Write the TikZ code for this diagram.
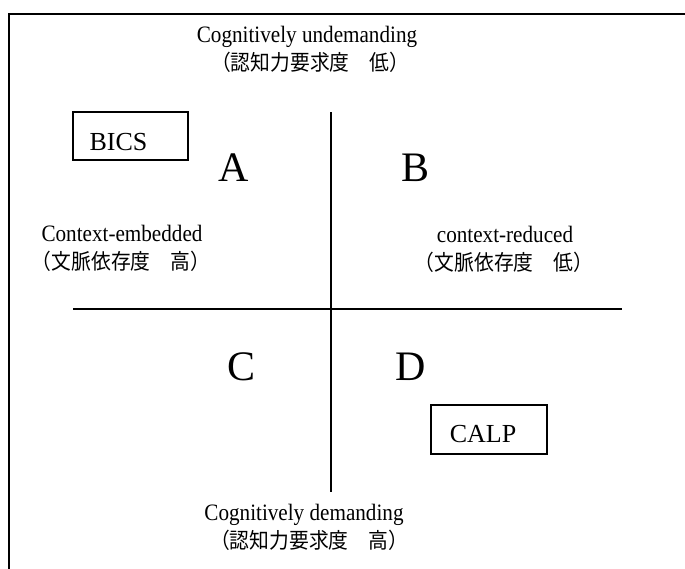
\documentclass[tikz,border=0pt]{standalone}
\usepackage{fontspec}
\setmainfont{Liberation Serif}
\newfontfamily\condserif[FakeStretch=0.9]{Liberation Serif}
\newfontfamily\cjk[FakeStretch=0.92]{Noto Sans CJK JP}
\begin{document}
\begin{tikzpicture}[x=1pt,y=-1pt,
  lbl/.style={font=\condserif\fontsize{23.5}{23.5}\selectfont, inner sep=0pt, anchor=base},
  jlbl/.style={font=\cjk\fontsize{21.5}{21.5}\selectfont, inner sep=0pt, anchor=base},
  quad/.style={font=\fontsize{42}{42}\selectfont, inner sep=0pt, anchor=base},
  boxst/.style={draw, line width=1.2pt, inner sep=0pt},
  boxtxt/.style={font=\fontsize{26}{26}\selectfont, inner sep=0pt, anchor=base},
  axis/.style={line width=1.6pt},
  frame/.style={line width=1.8pt}]
\useasboundingbox (0,0) rectangle (685,568);
\clip (0,0) rectangle (685,568);
\draw[frame] (9,14) rectangle (720,600);
% axes
\coordinate (hl) at (73,309);
\coordinate (hr) at (622,309);
\coordinate (vt) at (331,112);
\coordinate (vb) at (331,492);
\draw[axis] (hl) -- (hr);
\draw[axis] (vt) -- (vb);
% top labels
\node[lbl] (top1) at (307,42) {Cognitively undemanding};
\node[jlbl] (top2) at (310,70) {（認知力要求度　低）};
% bottom labels
\node[lbl] (bot1) at (304,520) {Cognitively demanding};
\node[jlbl] (bot2) at (309,548) {（認知力要求度　高）};
% left labels
\node[lbl] (lft1) at (122,241) {Context-embedded};
\node[jlbl] (lft2) at (121,269) {（文脈依存度　高）};
% right labels
\node[lbl] (rgt1) at (505,242) {context-reduced};
\node[jlbl] (rgt2) at (504,270) {（文脈依存度　低）};
% quadrant letters
\node[quad] (qa) at (234,181) {A};
\node[quad] (qb) at (416,181) {B};
\node[quad] (qc) at (242,380) {C};
\node[quad] (qd) at (411,380) {D};
% boxes
\node[boxst, minimum width=115pt, minimum height=48pt] (bics) at (130.5,136) {};
\node[boxtxt] (bicst) at (118.5,150) {BICS};
\node[boxst, minimum width=116pt, minimum height=49pt] (calp) at (489,429.5) {};
\node[boxtxt] (calpt) at (483,442) {CALP};
\end{tikzpicture}
\end{document}
